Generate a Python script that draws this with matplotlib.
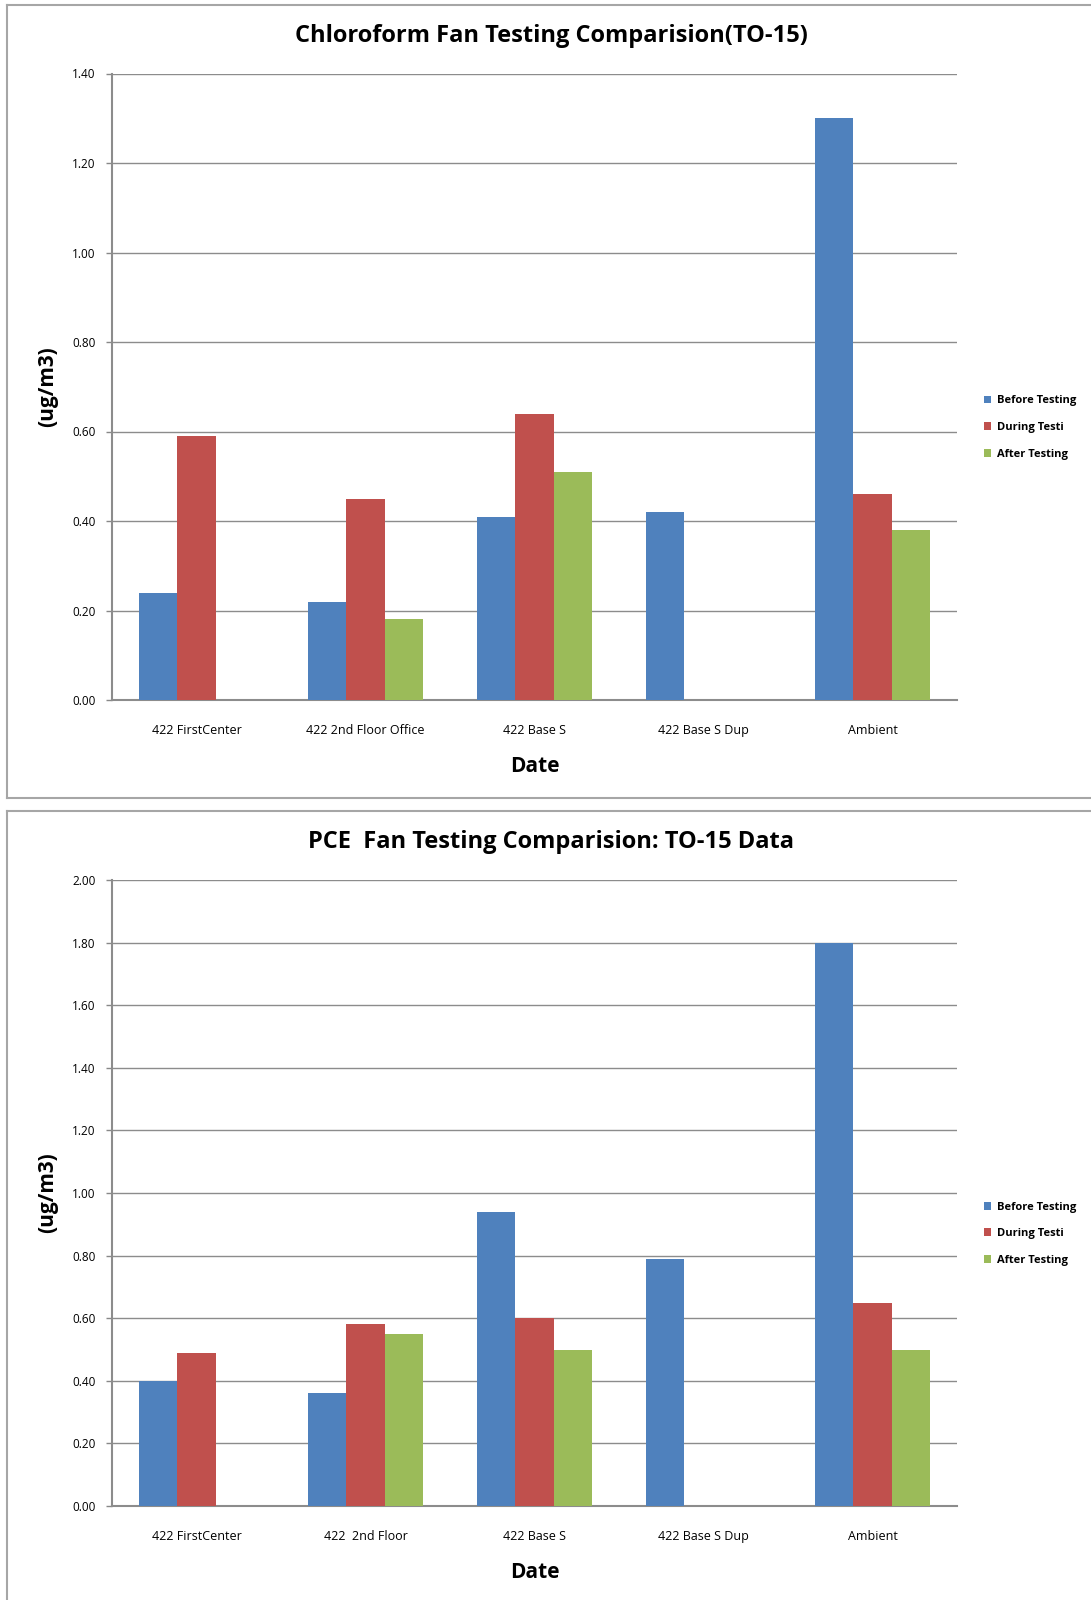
import matplotlib
matplotlib.use("Agg")
import matplotlib.pyplot as plt
import numpy as np
from matplotlib.lines import Line2D

plt.rcParams['font.family'] = ['Open Sans', 'DejaVu Sans']

# ---- data ----
series_names = ["Before Testing", "During Testi", "After Testing"]
colors = ["#4F81BD", "#C0504D", "#9BBB59"]

chl_categories = ["422 FirstCenter", "422 2nd Floor Office", "422 Base S", "422 Base S Dup", "Ambient"]
chl_before = [0.24, 0.22, 0.41, 0.42, 1.30]
chl_during = [0.59, 0.45, 0.64, np.nan, 0.46]
chl_after = [np.nan, 0.18, 0.51, np.nan, 0.38]
chl_title = "Chloroform Fan Testing Comparision(TO-15)"
chl_yticks = [0.0, 0.2, 0.4, 0.6, 0.8, 1.0, 1.2, 1.4]

pce_categories = ["422 FirstCenter", "422  2nd Floor", "422 Base S", "422 Base S Dup", "Ambient"]
pce_before = [0.40, 0.36, 0.94, 0.79, 1.80]
pce_during = [0.49, 0.58, 0.60, np.nan, 0.65]
pce_after = [np.nan, 0.55, 0.50, np.nan, 0.50]
pce_title = "PCE  Fan Testing Comparision: TO-15 Data"
pce_yticks = [0.0, 0.2, 0.4, 0.6, 0.8, 1.0, 1.2, 1.4, 1.6, 1.8, 2.0]

W, H = 1091, 1600
fig = plt.figure(figsize=(W / 100, H / 100), dpi=100)

def fx(px):
    return px / W

def fy(py):
    return 1 - py / H

# panel borders
def panel(top, bottom):
    c = "#A6A6A6"
    fig.add_artist(Line2D([fx(7), fx(1095)], [fy(top), fy(top)], color=c, lw=1.5))
    fig.add_artist(Line2D([fx(7), fx(7)], [fy(top), fy(bottom)], color=c, lw=1.5))
    if bottom < H:
        fig.add_artist(Line2D([fx(7), fx(1095)], [fy(bottom), fy(bottom)], color=c, lw=1.5))

panel(5, 798)
panel(811, 1605)

def draw(top_px, bottom_px, cats, before, during, after, title, yticks, ymax):
    ax = fig.add_axes([fx(112), fy(bottom_px), fx(957) - fx(112), (bottom_px - top_px) / H])
    x = np.arange(len(cats))
    w = 0.225
    for i, (vals, col, name) in enumerate(zip([before, during, after], colors, series_names)):
        ax.bar(x + (i - 1) * w, vals, width=w, color=col, label=name, zorder=3, linewidth=0)
    ax.set_xlim(-0.5, len(cats) - 0.5)
    ax.set_ylim(0, ymax)
    ax.set_yticks(yticks)
    ax.set_yticklabels([f"{v:.2f}" for v in yticks], fontsize=8.5)
    ax.set_xticks(x)
    ax.set_xticklabels(cats, fontsize=9)
    ax.tick_params(axis='x', length=0, pad=17)
    ax.tick_params(axis='y', length=4, width=1, color="#888888", direction='out', pad=8)
    ax.grid(axis='y', color="#8C8C8C", lw=1, zorder=0)
    for s in ['top', 'right']:
        ax.spines[s].set_visible(False)
    for s in ['left', 'bottom']:
        ax.spines[s].set_color("#8C8C8C")
        ax.spines[s].set_linewidth(1.5)
    ax.set_xlabel("Date", fontsize=15, fontweight='bold', labelpad=14)
    ax.set_ylabel("(ug/m3)", fontsize=15, fontweight='bold', labelpad=10)
    fig.text(fx(551), fy(top_px - 38), title, ha='center', va='center', fontsize=17, fontweight='bold')
    ax.legend(loc='center left', bbox_to_anchor=(1.0, 0.435), frameon=False,
              prop={'size': 8, 'weight': 'bold'},
              handlelength=0.7, handleheight=0.7, handletextpad=0.5, labelspacing=1.4,
              borderaxespad=2.0)
    return ax

draw(73.5, 700, chl_categories, chl_before, chl_during, chl_after, chl_title, chl_yticks, 1.4)
draw(880, 1506, pce_categories, pce_before, pce_during, pce_after, pce_title, pce_yticks, 2.0)

fig.savefig("out.png", dpi=100)
